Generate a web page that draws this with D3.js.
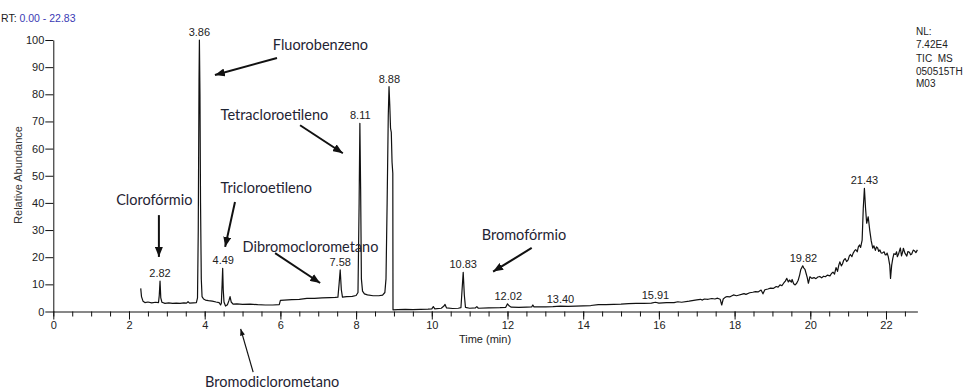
<!DOCTYPE html>
<html>
<head>
<meta charset="utf-8">
<script src="https://cdn.jsdelivr.net/npm/d3@7"></script>
<style>
  body { margin: 0; background: #fff; }
  svg { display: block; }
</style>
</head>
<body>
<figure id="chrom" style="margin:0"></figure>
<script>
// chromatogram trace: [time (min), relative abundance (%)]
const trace = [
  [2.31, 8.5], [2.33, 5.5], [2.37, 3.8], [2.42, 3.3], [2.5, 3.5], [2.6, 3.2], [2.7, 3.4], [2.78, 3.3], [2.8, 6], [2.82, 11.2],
  [2.84, 5], [2.87, 3.4], [2.95, 3.0], [3.05, 3.2], [3.15, 3.0], [3.25, 3.1], [3.35, 3.0], [3.45, 3.2], [3.52, 3.1], [3.56, 3.6],
  [3.6, 3.1], [3.7, 3.2], [3.78, 3.3], [3.81, 5], [3.83, 30], [3.85, 85], [3.86, 100], [3.875, 80], [3.89, 40], [3.91, 12],
  [3.93, 5.5], [3.97, 4.6], [4.02, 4.2], [4.1, 4.0], [4.2, 3.8], [4.3, 3.5], [4.38, 3.3], [4.42, 2.4], [4.44, 3.0], [4.46, 10],
  [4.475, 15.9], [4.49, 8], [4.51, 3.5], [4.55, 2.0], [4.6, 2.5], [4.64, 4], [4.67, 5.5], [4.7, 3.5], [4.75, 2.7], [4.85, 2.8],
  [5.0, 2.6], [5.2, 2.7], [5.4, 2.5], [5.6, 2.4], [5.8, 2.4], [5.97, 2.5], [6.0, 4.1], [6.1, 4.2], [6.3, 4.4], [6.5, 4.5],
  [6.7, 4.8], [6.9, 4.8], [7.1, 5.0], [7.3, 5.1], [7.45, 5.2], [7.52, 5.3], [7.55, 10], [7.58, 15.3], [7.61, 8], [7.64, 5.3],
  [7.75, 5.5], [7.9, 5.6], [8.0, 5.9], [8.05, 7], [8.08, 40], [8.1, 69.3], [8.12, 45], [8.14, 12], [8.17, 7.5], [8.22, 6.5],
  [8.3, 6.1], [8.45, 5.8], [8.6, 5.8], [8.7, 6.0], [8.76, 7.0], [8.79, 12], [8.82, 40], [8.85, 72], [8.87, 82.8], [8.89, 76],
  [8.91, 67.5], [8.93, 66], [8.95, 55], [8.97, 50.9], [8.975, 0.6], [9.1, 0.7], [9.3, 0.8], [9.5, 0.7], [9.7, 0.8], [9.9, 0.9],
  [10.0, 1.0], [10.04, 1.8], [10.08, 1.0], [10.25, 1.2], [10.32, 2.0], [10.35, 2.6], [10.39, 1.3], [10.55, 1.1], [10.7, 1.2], [10.77, 1.4],
  [10.8, 8], [10.83, 14.4], [10.86, 6], [10.89, 1.5], [11.0, 1.2], [11.15, 1.3], [11.19, 1.8], [11.23, 1.2], [11.5, 1.3], [11.8, 1.4],
  [11.95, 1.5], [12.0, 2.8], [12.05, 2.0], [12.1, 1.6], [12.3, 1.5], [12.5, 1.6], [12.64, 1.7], [12.67, 2.4], [12.7, 1.7], [13.0, 1.7],
  [13.2, 1.8], [13.4, 2.0], [13.6, 1.9], [13.8, 2.0], [14.0, 2.1], [14.2, 2.2], [14.4, 2.5], [14.6, 2.5], [14.8, 2.6], [15.0, 2.7],
  [15.2, 2.9], [15.4, 3.0], [15.6, 3.0], [15.8, 3.1], [15.91, 3.4], [16.0, 3.1], [16.2, 3.3], [16.4, 3.3], [16.5, 3.6], [16.6, 3.4],
  [16.8, 3.8], [17.0, 4.3], [17.1, 4.5], [17.15, 4.2], [17.2, 4.6], [17.3, 4.5], [17.4, 4.8], [17.48, 4.6], [17.55, 4.9], [17.62, 4.5],
  [17.66, 2.4], [17.7, 4.6], [17.75, 5.2], [17.8, 5.5], [17.88, 5.4], [17.97, 6.1], [18.05, 5.8], [18.1, 6.0], [18.18, 6.3], [18.25, 6.6],
  [18.3, 6.3], [18.4, 6.9], [18.48, 7.1], [18.55, 7.3], [18.62, 7.2], [18.7, 7.9], [18.75, 6.5], [18.8, 8.0], [18.88, 8.3], [18.95, 8.6],
  [19.02, 8.5], [19.1, 9.2], [19.15, 9.0], [19.2, 9.8], [19.25, 9.5], [19.3, 10.5], [19.34, 11.2], [19.38, 12.2], [19.42, 10.9], [19.45, 11.6],
  [19.5, 10.8], [19.52, 11.8], [19.56, 10.2], [19.6, 9.8], [19.64, 10.4], [19.68, 11.5], [19.72, 13.5], [19.75, 15.5], [19.8, 16.8], [19.83, 16.0],
  [19.86, 15.5], [19.89, 14.0], [19.92, 12.5], [19.95, 10.4], [19.99, 12.8], [20.04, 12.2], [20.1, 12.5], [20.15, 12.1], [20.2, 12.7], [20.25, 12.9],
  [20.3, 12.4], [20.35, 13.0], [20.4, 12.8], [20.45, 13.4], [20.52, 13.1], [20.56, 14.0], [20.6, 14.5], [20.64, 13.8], [20.68, 16.2], [20.72, 14.8],
  [20.75, 16.9], [20.78, 18.3], [20.82, 16.8], [20.85, 17.5], [20.88, 18.8], [20.92, 19.5], [20.96, 18.4], [21.0, 19.0], [21.03, 20.4], [21.06, 21.0],
  [21.1, 20.2], [21.13, 21.4], [21.17, 22.4], [21.2, 22.8], [21.24, 22.0], [21.27, 23.8], [21.3, 24.5], [21.33, 23.6], [21.37, 26.3], [21.4, 38],
  [21.43, 45.4], [21.46, 38], [21.49, 32.5], [21.53, 34.9], [21.57, 30.0], [21.61, 26], [21.65, 23.3], [21.68, 24.2], [21.72, 22.5], [21.75, 23.8],
  [21.78, 23.4], [21.81, 22.1], [21.84, 22.7], [21.87, 21.6], [21.9, 21.5], [21.95, 22.0], [21.98, 20.9], [22.0, 20.8], [22.03, 21.5], [22.06, 20.2],
  [22.1, 17], [22.12, 12.2], [22.15, 17], [22.18, 19.6], [22.21, 21.3], [22.25, 21.0], [22.28, 22.0], [22.3, 20.2], [22.33, 21.1], [22.36, 22.5],
  [22.38, 23.4], [22.41, 20.5], [22.44, 21.9], [22.46, 23.3], [22.5, 21.5], [22.55, 20.4], [22.58, 22.1], [22.62, 21.8], [22.65, 20.9], [22.68, 21.2],
  [22.72, 22.6], [22.75, 22.4], [22.79, 21.7], [22.83, 22.7]
];

// labelled peaks
const peakTimes = [2.82, 3.86, 4.49, 7.58, 8.11, 8.88, 10.83, 12.02, 13.40, 15.91, 19.82, 21.43];
const peakHeights = [11.2, 100, 15.9, 15.3, 69.3, 82.8, 14.4, 2.8, 1.8, 3.2, 16.8, 45.4];

// axis ticks
const xMajorTicks = [0, 2, 4, 6, 8, 10, 12, 14, 16, 18, 20, 22];
const yTicks = [0, 10, 20, 30, 40, 50, 60, 70, 80, 90, 100];

const headerLines = ["NL:", "7.42E4", "TIC  MS", "050515TH", "M03"];

// compound annotations, placed in data units
const notes = [
  { text: "Fluorobenzeno", t: 5.80, v: 98.5, from: [5.91, 93.4], to: [4.27, 87.1] },
  { text: "Tetracloroetileno", t: 4.42, v: 72.4, from: [6.52, 68.6], to: [7.65, 58.3] },
  { text: "Clorofórmio", t: 1.66, v: 41.1, from: [2.79, 35.5], to: [2.79, 20.1] },
  { text: "Tricloroetileno", t: 4.42, v: 45.5, from: [4.80, 40.3], to: [4.54, 23.8] },
  { text: "Dibromoclorometano", t: 5.00, v: 23.8, from: [5.86, 21.5], to: [7.05, 10.5] },
  { text: "Bromofórmio", t: 11.32, v: 28.2, from: [12.64, 23.4], to: [11.62, 14.7] },
  { text: "Bromodiclorometano", t: 4.01, v: -25.9, from: [5.28, -22.3], to: [4.95, -6.4], thin: true }
];

const width = 970, height = 389;
const axisFont = "'Liberation Sans', Arial, sans-serif";

const svg = d3.select("figure#chrom")
  .append("svg")
  .attr("width", width)
  .attr("height", height);

const x = d3.scaleLinear().domain([0, 22.83]).range([53.3, 917.4]);
const y = d3.scaleLinear().domain([0, 100]).range([311.5, 40]);

// arrow heads
const defs = svg.append("defs");
defs.append("marker")
  .attr("id", "head")
  .attr("markerUnits", "userSpaceOnUse")
  .attr("viewBox", "0 0 10 8")
  .attr("refX", 10).attr("refY", 4)
  .attr("markerWidth", 10).attr("markerHeight", 8)
  .attr("orient", "auto")
  .append("path").attr("d", "M0,0L10,4L0,8Z").attr("fill", "#111");
defs.append("marker")
  .attr("id", "headThin")
  .attr("markerUnits", "userSpaceOnUse")
  .attr("viewBox", "0 0 8 6")
  .attr("refX", 8).attr("refY", 3)
  .attr("markerWidth", 7).attr("markerHeight", 5)
  .attr("orient", "auto")
  .append("path").attr("d", "M0,0L8,3L0,6Z").attr("fill", "#111");

// minor x ticks every 0.5 min
svg.append("g")
  .attr("transform", "translate(0," + y(0) + ")")
  .call(d3.axisBottom(x).tickValues(d3.range(0, 22.83, 0.5)).tickSize(5).tickSizeOuter(0).tickFormat(""))
  .call(g => g.select(".domain").remove());

// major x axis
const xAxis = svg.append("g")
  .attr("transform", "translate(0," + y(0) + ")")
  .call(d3.axisBottom(x).tickValues(xMajorTicks).tickSize(8).tickSizeOuter(0).tickPadding(2));
xAxis.selectAll("text").style("font-family", axisFont).style("font-size", "11px").attr("fill", "#222");

// y axis
const yAxis = svg.append("g")
  .attr("transform", "translate(" + x(0) + ",0)")
  .call(d3.axisLeft(y).tickValues(yTicks).tickSize(8).tickSizeOuter(0).tickPadding(1));
yAxis.selectAll("text").style("font-family", axisFont).style("font-size", "11px").attr("fill", "#222");
svg.selectAll(".domain, .tick line").attr("stroke", "#111");

svg.append("text")
  .attr("transform", "translate(22,175) rotate(-90)")
  .attr("text-anchor", "middle")
  .style("font-family", axisFont).style("font-size", "11px")
  .attr("fill", "#333")
  .text("Relative Abundance");

svg.append("text")
  .attr("x", 485).attr("y", 343)
  .attr("text-anchor", "middle")
  .style("font-family", axisFont).style("font-size", "11px")
  .attr("fill", "#222")
  .text("Time (min)");

// range header
const rt = svg.append("text")
  .attr("x", 1).attr("y", 22)
  .style("font-family", axisFont).style("font-size", "10.5px");
rt.append("tspan").attr("fill", "#222").text("RT: ");
rt.append("tspan").attr("fill", "#3a3ab4").text("0.00 - 22.83");

svg.append("g")
  .selectAll("text")
  .data(headerLines)
  .enter()
  .append("text")
  .attr("x", 916)
  .attr("y", (d, i) => [35, 48, 62, 75, 87][i])
  .style("font-family", axisFont).style("font-size", "10px")
  .style("white-space", "pre")
  .attr("fill", "#222")
  .text(d => d);

// trace
const line = d3.line()
  .x(d => x(d[0]))
  .y(d => y(d[1]));
svg.append("path")
  .datum(trace)
  .attr("d", line)
  .attr("fill", "none")
  .attr("stroke", "#111")
  .attr("stroke-width", 1.2)
  .attr("stroke-linejoin", "round");

// peak retention time labels
svg.append("g")
  .selectAll("text")
  .data(peakTimes)
  .enter()
  .append("text")
  .attr("x", d => x(d))
  .attr("y", (d, i) => y(peakHeights[i]) - 4)
  .attr("text-anchor", "middle")
  .style("font-family", axisFont).style("font-size", "11px")
  .attr("fill", "#222")
  .text(d => d.toFixed(2));

// compound names with arrows
const note = svg.append("g").selectAll("g").data(notes).enter().append("g");
note.append("text")
  .attr("x", d => x(d.t))
  .attr("y", d => y(d.v))
  .attr("dominant-baseline", "central")
  .style("font-family", "Lato, 'Open Sans', sans-serif").style("font-size", "14.5px")
  .attr("fill", "#1f2433")
  .text(d => d.text);
note.append("line")
  .attr("x1", d => x(d.from[0])).attr("y1", d => y(d.from[1]))
  .attr("x2", d => x(d.to[0])).attr("y2", d => y(d.to[1]))
  .attr("stroke", "#111")
  .attr("stroke-width", d => d.thin ? 1.2 : 2)
  .attr("marker-end", d => d.thin ? "url(#headThin)" : "url(#head)");
</script>
</body>
</html>
